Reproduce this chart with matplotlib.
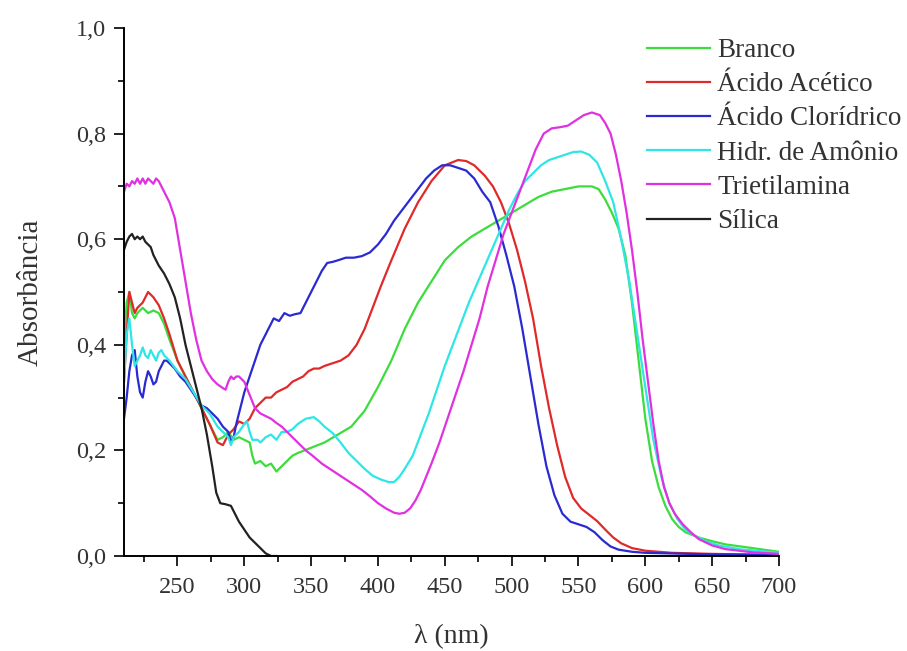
import matplotlib
matplotlib.use("Agg")
import matplotlib.pyplot as plt
from matplotlib.ticker import MultipleLocator, FuncFormatter

plt.rcParams['font.family'] = ['Liberation Serif', 'DejaVu Serif']

labels = ["Branco", "Ácido Acético", "Ácido Clorídrico", "Hidr. de Amônio", "Trietilamina", "Sílica"]
colors = ["#3ddc3d", "#e02a2a", "#2a2ad0", "#2ee6e6", "#e030e0", "#222222"]

branco_x = [210, 212, 214, 216, 218, 220, 224, 228, 232, 236, 240, 244, 250, 256, 262, 268, 274, 280, 284, 288,
            292, 296, 300, 304, 306, 308, 312, 316, 320, 324, 328, 332, 336, 340, 350, 360, 370, 380, 390, 400,
            410, 420, 430, 440, 450, 460, 470, 480, 490, 500, 510, 520, 530, 540, 550, 560, 565, 570, 575, 580,
            585, 590, 595, 600, 605, 610, 615, 620, 625, 630, 640, 650, 660, 680, 700]
branco_y = [0.40, 0.48, 0.50, 0.46, 0.45, 0.46, 0.47, 0.46, 0.465, 0.46, 0.44, 0.41, 0.37, 0.34, 0.31, 0.28, 0.25, 0.22, 0.225, 0.235,
            0.22, 0.225, 0.22, 0.215, 0.19, 0.175, 0.18, 0.17, 0.175, 0.16, 0.17, 0.18, 0.19, 0.195, 0.205, 0.215, 0.23, 0.245, 0.275, 0.32,
            0.37, 0.43, 0.48, 0.52, 0.56, 0.585, 0.605, 0.62, 0.635, 0.65, 0.665, 0.68, 0.69, 0.695, 0.70, 0.70, 0.695, 0.675, 0.65, 0.62,
            0.57, 0.48, 0.37, 0.26, 0.18, 0.13, 0.095, 0.07, 0.055, 0.045, 0.035, 0.028, 0.022, 0.015, 0.008]

acetico_x = [210, 212, 214, 216, 218, 220, 224, 228, 232, 236, 240, 244, 250, 256, 262, 268, 274, 280, 284, 288,
             292, 296, 300, 304, 308, 312, 316, 320, 324, 328, 332, 336, 340, 344, 348, 352, 356, 360, 366, 372,
             378, 384, 390, 396, 402, 410, 420, 430, 440, 450, 460, 466, 472, 480, 486, 492, 498, 504, 510, 516,
             522, 528, 534, 540, 546, 552, 558, 564, 570, 576, 582, 590, 600, 620, 650, 700]
acetico_y = [0.33, 0.42, 0.50, 0.48, 0.46, 0.47, 0.48, 0.50, 0.49, 0.475, 0.45, 0.42, 0.37, 0.34, 0.31, 0.28, 0.25, 0.215, 0.21, 0.23,
             0.24, 0.255, 0.25, 0.26, 0.28, 0.29, 0.30, 0.30, 0.31, 0.315, 0.32, 0.33, 0.335, 0.34, 0.35, 0.355, 0.355, 0.36, 0.365, 0.37,
             0.38, 0.40, 0.43, 0.47, 0.51, 0.56, 0.62, 0.67, 0.71, 0.74, 0.75, 0.748, 0.74, 0.72, 0.70, 0.67, 0.63, 0.58, 0.52, 0.45,
             0.36, 0.28, 0.21, 0.15, 0.11, 0.09, 0.078, 0.066, 0.05, 0.035, 0.024, 0.015, 0.01, 0.006, 0.004, 0.002]

cloridrico_x = [210, 212, 214, 216, 218, 220, 222, 224, 226, 228, 230, 232, 234, 236, 238, 240, 242, 244, 248, 252,
                256, 260, 264, 268, 272, 276, 280, 284, 288, 290, 292, 294, 296, 298, 300, 304, 308, 312, 316, 320,
                322, 326, 330, 334, 338, 342, 346, 350, 354, 358, 362, 366, 370, 376, 382, 388, 394, 400, 406, 412,
                418, 424, 430, 436, 442, 448, 454, 460, 466, 472, 478, 484, 490, 496, 502, 508, 514, 520, 526, 532,
                538, 544, 550, 556, 562, 568, 574, 580, 590, 600, 650, 700]
cloridrico_y = [0.26, 0.30, 0.35, 0.38, 0.39, 0.34, 0.31, 0.30, 0.33, 0.35, 0.34, 0.325, 0.33, 0.35, 0.36, 0.37, 0.37, 0.365, 0.355, 0.34,
                0.33, 0.315, 0.30, 0.285, 0.28, 0.27, 0.26, 0.245, 0.235, 0.215, 0.225, 0.25, 0.27, 0.29, 0.31, 0.34, 0.37, 0.40, 0.42, 0.44,
                0.45, 0.445, 0.46, 0.455, 0.458, 0.46, 0.48, 0.50, 0.52, 0.54, 0.555, 0.557, 0.56, 0.565, 0.565, 0.568, 0.575, 0.59, 0.61, 0.635,
                0.655, 0.675, 0.695, 0.715, 0.73, 0.74, 0.74, 0.735, 0.73, 0.715, 0.69, 0.67, 0.625, 0.57, 0.51, 0.43, 0.34, 0.25, 0.17, 0.115,
                0.08, 0.065, 0.06, 0.055, 0.045, 0.03, 0.018, 0.012, 0.008, 0.006, 0.003, 0.002]

amonio_x = [210, 212, 214, 216, 218, 220, 222, 224, 226, 228, 230, 232, 234, 236, 238, 240, 244, 250, 256, 262,
            268, 274, 280, 284, 288, 290, 292, 296, 300, 302, 304, 306, 310, 312, 316, 320, 324, 328, 332, 336,
            340, 346, 352, 356, 360, 366, 372, 378, 384, 390, 396, 402, 408, 412, 416, 420, 426, 432, 438, 444,
            450, 456, 462, 468, 474, 480, 486, 492, 498, 504, 510, 516, 522, 528, 534, 540, 546, 552, 558, 564,
            570, 576, 582, 588, 594, 600, 606, 612, 618, 624, 630, 636, 645, 655, 670, 700]
amonio_y = [0.33, 0.42, 0.45, 0.40, 0.36, 0.37, 0.38, 0.395, 0.38, 0.375, 0.39, 0.38, 0.37, 0.385, 0.39, 0.38, 0.37, 0.35, 0.335, 0.31,
            0.285, 0.27, 0.245, 0.235, 0.225, 0.21, 0.225, 0.235, 0.25, 0.255, 0.235, 0.22, 0.22, 0.215, 0.225, 0.23, 0.22, 0.235, 0.235, 0.24,
            0.25, 0.26, 0.263, 0.255, 0.245, 0.233, 0.215, 0.195, 0.18, 0.165, 0.152, 0.145, 0.14, 0.14, 0.15, 0.165, 0.19, 0.23, 0.27, 0.315,
            0.36, 0.40, 0.44, 0.48, 0.515, 0.55, 0.585, 0.62, 0.655, 0.685, 0.71, 0.725, 0.74, 0.75, 0.755, 0.76, 0.765, 0.766, 0.76, 0.745,
            0.71, 0.67, 0.60, 0.52, 0.42, 0.32, 0.22, 0.15, 0.10, 0.07, 0.05, 0.04, 0.028, 0.02, 0.013, 0.006]

trietil_x = [210, 212, 214, 216, 218, 220, 222, 224, 226, 228, 230, 232, 234, 236, 240, 244, 248, 252, 256, 260,
             264, 268, 272, 276, 280, 284, 286, 288, 290, 292, 294, 296, 298, 300, 304, 308, 312, 316, 320, 324,
             328, 334, 340, 346, 352, 358, 364, 370, 376, 382, 388, 394, 400, 406, 412, 416, 420, 424, 428, 432,
             436, 440, 446, 452, 458, 464, 470, 476, 482, 488, 494, 500, 506, 512, 518, 524, 530, 536, 542, 548,
             554, 560, 566, 570, 574, 578, 582, 586, 590, 594, 598, 602, 606, 610, 614, 618, 622, 628, 634, 640,
             650, 660, 680, 700]
trietil_y = [0.69, 0.705, 0.70, 0.71, 0.705, 0.715, 0.705, 0.715, 0.705, 0.715, 0.71, 0.705, 0.715, 0.71, 0.69, 0.67, 0.64, 0.58, 0.52, 0.46,
             0.41, 0.37, 0.35, 0.335, 0.325, 0.318, 0.315, 0.33, 0.34, 0.335, 0.34, 0.34, 0.335, 0.33, 0.305, 0.28, 0.27, 0.265, 0.26, 0.252,
             0.245, 0.23, 0.215, 0.20, 0.188, 0.175, 0.165, 0.155, 0.145, 0.135, 0.125, 0.113, 0.10, 0.09, 0.082, 0.08, 0.082, 0.09, 0.105, 0.125,
             0.15, 0.175, 0.215, 0.26, 0.305, 0.35, 0.40, 0.45, 0.51, 0.56, 0.61, 0.65, 0.69, 0.73, 0.77, 0.80, 0.81, 0.812, 0.815, 0.825,
             0.835, 0.84, 0.835, 0.82, 0.80, 0.76, 0.71, 0.65, 0.58, 0.50, 0.41, 0.33, 0.25, 0.18, 0.13, 0.10, 0.08, 0.06, 0.045, 0.032,
             0.02, 0.013, 0.007, 0.004]

silica_x = [210, 212, 214, 216, 218, 220, 222, 224, 226, 228, 230, 232, 234, 236, 240, 244, 248, 252, 256, 260,
            264, 268, 272, 276, 279, 282, 286, 290, 292, 296, 300, 304, 308, 312, 316, 320, 324]
silica_y = [0.58, 0.595, 0.605, 0.61, 0.60, 0.605, 0.60, 0.605, 0.595, 0.59, 0.585, 0.57, 0.56, 0.55, 0.535, 0.515, 0.49, 0.45, 0.40, 0.36,
            0.32, 0.28, 0.23, 0.17, 0.12, 0.10, 0.098, 0.095, 0.085, 0.065, 0.05, 0.035, 0.025, 0.015, 0.005, 0.0, 0.0]

xticks = [250, 300, 350, 400, 450, 500, 550, 600, 650, 700]
yticks = [0.0, 0.2, 0.4, 0.6, 0.8, 1.0]

series = [(branco_x, branco_y), (acetico_x, acetico_y), (cloridrico_x, cloridrico_y),
          (amonio_x, amonio_y), (trietil_x, trietil_y), (silica_x, silica_y)]

fig = plt.figure(figsize=(9.07, 6.51), dpi=100)
ax = fig.add_axes([124/907, 1-556/651, (779-124)/907, (556-28)/651])

for (xs, ys), lab, col in zip(series, labels, colors):
    ax.plot(xs, ys, color=col, lw=1.6, label=lab)

ax.set_xlim(210, 700)
ax.set_ylim(0, 1.0)
ax.set_xticks(xticks)
ax.set_yticks(yticks)
ax.xaxis.set_minor_locator(MultipleLocator(25))
ax.yaxis.set_minor_locator(MultipleLocator(0.1))
ax.yaxis.set_major_formatter(FuncFormatter(lambda v, p: f"{v:.1f}".replace('.', ',')))
ax.spines['top'].set_visible(False)
ax.spines['right'].set_visible(False)
for s in ['left', 'bottom']:
    ax.spines[s].set_linewidth(1.4)
ax.tick_params(which='major', direction='out', length=7, width=1.4, labelsize=17.5, colors='#222222', pad=6)
ax.tick_params(axis='x', which='major', pad=8)
ax.tick_params(which='minor', direction='out', length=4, width=1.2)
for lbl in ax.get_xticklabels() + ax.get_yticklabels():
    lbl.set_color('#333333')

ax.set_xlabel("λ (nm)", fontsize=20, color='#333333', labelpad=19)
ax.set_ylabel("Absorbância", fontsize=21, color='#333333', labelpad=23)

leg = ax.legend(loc='upper left', bbox_to_anchor=(647/907, 1-38/651), bbox_transform=fig.transFigure,
                frameon=False, fontsize=19.5, handlelength=2.33, handletextpad=0.26, labelspacing=0.34,
                borderpad=0, borderaxespad=0)
for t in leg.get_texts():
    t.set_color('#333333')

fig.savefig("out.png", dpi=100)
